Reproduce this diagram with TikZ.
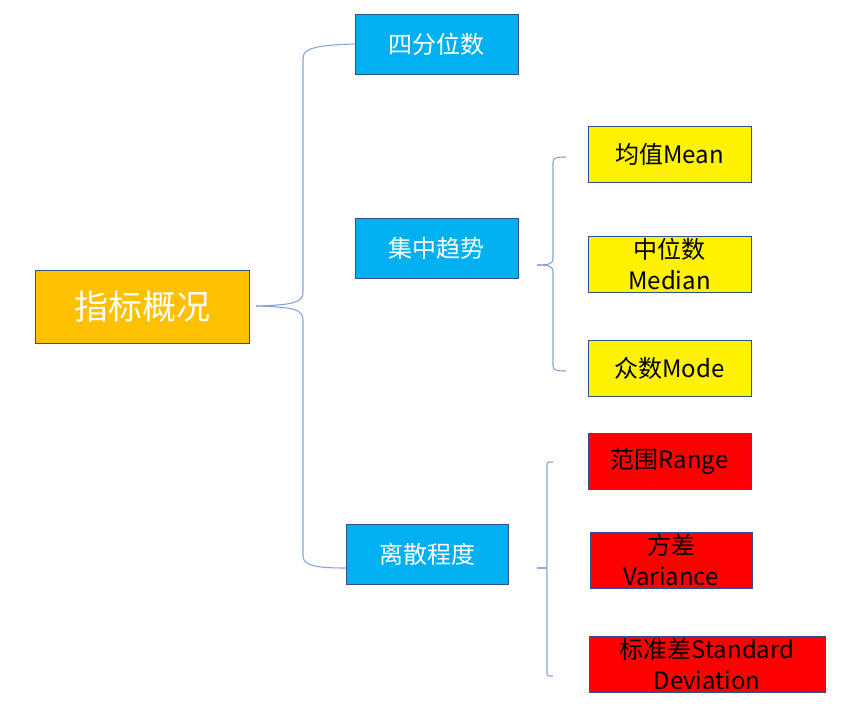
\documentclass[tikz,border=0pt]{standalone}
\usepackage{fontspec}
\setmainfont{Noto Sans CJK SC}
\usetikzlibrary{positioning}
\definecolor{rootfill}{HTML}{FFC000}
\definecolor{bluefill}{HTML}{00B0F0}
\definecolor{edgeblue}{HTML}{2F528F}
\definecolor{bracecol}{HTML}{86A4DA}

\begin{document}
\begin{tikzpicture}[x=1pt, y=-1pt,
	box/.style = {draw=edgeblue, line width=0.8pt, inner sep=0pt, align=center, minimum width=163pt, minimum height=56pt, font=\fontsize{24}{31}\selectfont},
	topic/.style = {box, fill=bluefill, text=white, minimum height=60pt},
	central/.style = {box, fill=yellow},
	spread/.style = {box, fill=red},
	brace/.style = {draw=bracecol, line width=1.1pt}]
		\useasboundingbox (0,0) rectangle (841,708);
		\node[box, fill=rootfill, text=white, minimum width=214pt, minimum height=73pt, font=\fontsize{34}{38}\selectfont] (overview) at (142,306.5) {指标概况};
		
		\node[topic] (quartile) at (436.5,44) {四分位数};
		\node[topic] (centre) at (436.5,248) {集中趋势};
		\node[topic, minimum width=162pt] (dispersion) at (427,554) {离散程度};
		
		\node[central] (mean) at (669.5,154) {均值Mean};
		\node[central] (median) at (669.5,264) {中位数\\Median};
		\node[central] (mode) at (669.5,368) {众数Mode};
		
		\node[spread] (range) at (669.5,461) {范围Range};
		\node[spread, minimum width=162pt] (variance) at (671,560) {方差\\Variance};
		\node[spread, minimum width=236pt] (stddev) at (707,664) {标准差Standard\\Deviation};
		
		% first brace
		\coordinate (tipA) at (256,306);
		\draw[brace] (tipA) .. controls (295,305) and (303,302) .. (303,292) -- (303,58) .. controls (303,48) and (318,45) .. (quartile.west);
		\draw[brace] (tipA) .. controls (295,307) and (303,310) .. (303,320) -- (303,556) .. controls (303,566) and (318,568) .. ([yshift=-14pt]dispersion.west);
		
		% second brace
		\coordinate (tipB) at (537,265);
		\coordinate (endB1) at (566,157);
		\coordinate (endB2) at (566,371);
		\draw[brace] (tipB) .. controls (548,265) and (553,264) .. (553,259) -- (553,162) .. controls (553,158) and (556,157) .. (endB1);
		\draw[brace] (tipB) .. controls (548,265) and (553,266) .. (553,271) -- (553,366) .. controls (553,370) and (556,371) .. (endB2);
		
		% third brace
		\coordinate (tipC) at (537,568);
		\coordinate (endC1) at (553,462);
		\coordinate (endC2) at (553,676);
		\draw[brace] (tipC) -- (544,568) .. controls (547,568) .. (547,565) -- (547,465) .. controls (547,462) .. (endC1);
		\draw[brace] (tipC) -- (544,568) .. controls (547,568) .. (547,571) -- (547,673) .. controls (547,676) .. (endC2);
\end{tikzpicture}
\end{document}
